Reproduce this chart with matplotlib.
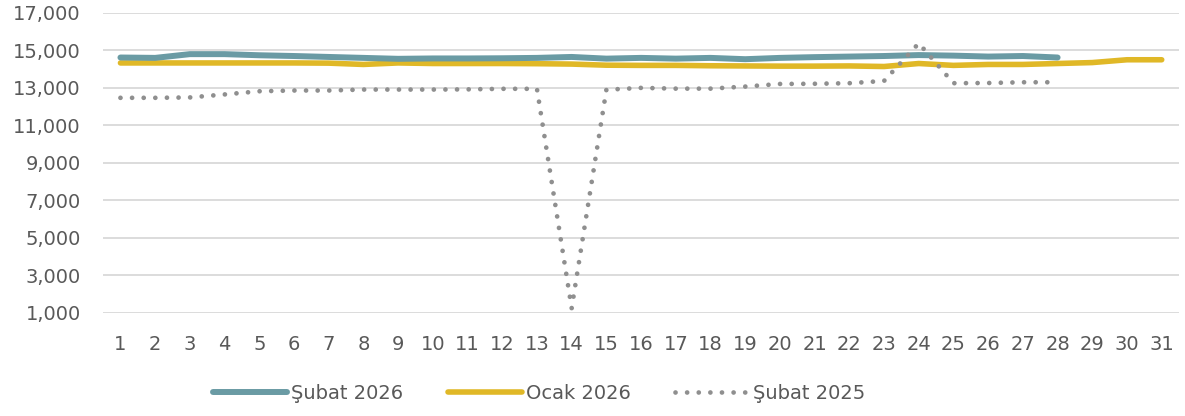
import numpy as np
import matplotlib
matplotlib.use('agg')
from matplotlib import pyplot as plt
from matplotlib.ticker import FuncFormatter

plt.rcParams["font.family"] = ["DejaVu Sans"]

days = list(range(1, 32))

subat_2026 = [14620, 14600, 14800, 14800, 14740, 14700, 14650, 14600, 14550, 14570,
              14570, 14580, 14600, 14650, 14560, 14600, 14560, 14600, 14530, 14600,
              14640, 14670, 14700, 14750, 14720, 14670, 14700, 14620]
ocak_2026 = [14330, 14330, 14330, 14330, 14330, 14330, 14320, 14250, 14330, 14300,
             14300, 14300, 14290, 14270, 14210, 14200, 14200, 14180, 14170, 14160,
             14160, 14170, 14140, 14300, 14200, 14250, 14250, 14300, 14350, 14500,
             14500]
subat_2025 = [12470, 12470, 12490, 12650, 12820, 12860, 12860, 12910, 12910, 12910,
              12920, 12950, 12950, 1250, 12900, 13000, 12960, 12960, 13070, 13210,
              13220, 13250, 13370, 15380, 13250, 13260, 13300, 13300]

fig = plt.figure(figsize=(11.85, 4.16), dpi=100)
ax = fig.add_axes([0.087, 0.248, 0.908, 0.721])

ax.plot(days[:28], subat_2026, color='#6A9BA4', lw=4.3, solid_capstyle='round', label='Şubat 2026', zorder=3)
ax.plot(days, ocak_2026, color='#E0B827', lw=4.0, solid_capstyle='round', label='Ocak 2026', zorder=2)
ax.plot(days[:28], subat_2025, color='#8F8F8F', lw=3.4, linestyle=(0, (0.01, 2.45)),
        dash_capstyle='round', label='Şubat 2025', zorder=4)

ax.set_ylim(1000, 17000)
ax.set_yticks(np.arange(1000, 17001, 2000))
ax.yaxis.set_major_formatter(FuncFormatter(lambda v, p: f'{int(v):,}'))
ax.set_xlim(0.5, 31.5)
ax.set_xticks(days)
ax.grid(axis='y', color='#D9D9D9', lw=1.3)
ax.set_axisbelow(True)
for s in ax.spines.values():
    s.set_visible(False)
ax.tick_params(axis='both', length=0, labelsize=14, labelcolor='#595959')
ax.tick_params(axis='x', pad=16)
ax.tick_params(axis='y', pad=16)

leg = fig.legend(loc='center', bbox_to_anchor=(0.455, 0.055), ncol=3, frameon=False,
                 fontsize=14, handlelength=3.8, handletextpad=0.2, columnspacing=2.3)
for t in leg.get_texts():
    t.set_color('#595959')

plt.savefig('out.png', dpi=100)
plt.close()
